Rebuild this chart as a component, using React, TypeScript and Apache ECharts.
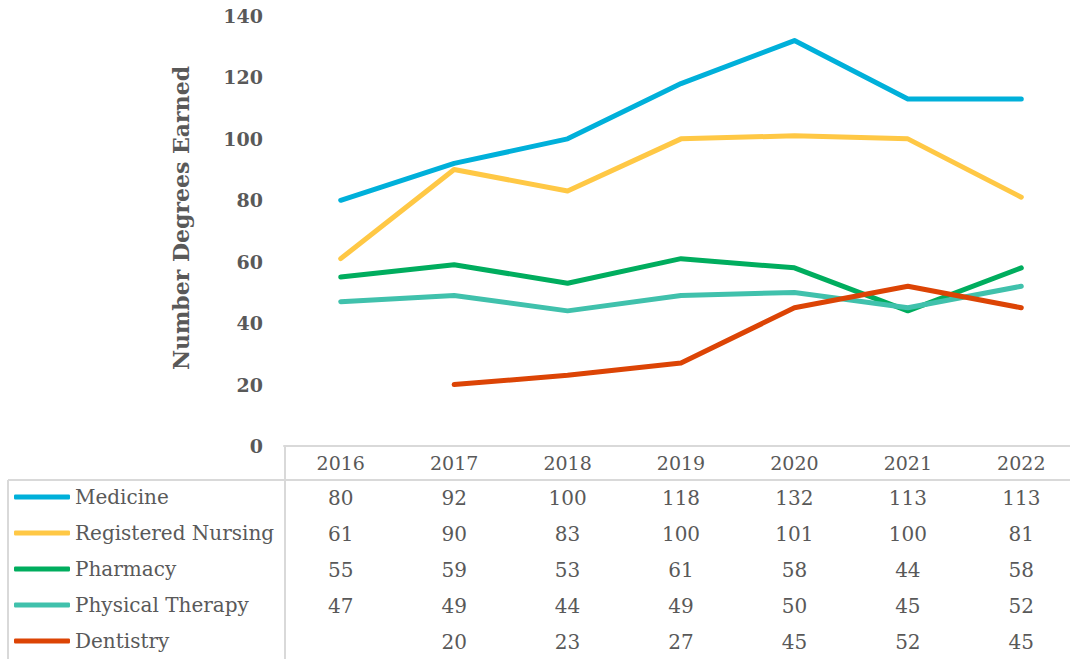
import React, { useEffect, useRef } from "react";
import * as echarts from "echarts";

const years = ["2016", "2017", "2018", "2019", "2020", "2021", "2022"];
const medicine = [80, 92, 100, 118, 132, 113, 113];
const nursing = [61, 90, 83, 100, 101, 100, 81];
const pharmacy = [55, 59, 53, 61, 58, 44, 58];
const physicalTherapy = [47, 49, 44, 49, 50, 45, 52];
const dentistry: (number | null)[] = [null, 20, 23, 27, 45, 52, 45];
const yTicks = [0, 20, 40, 60, 80, 100, 120, 140];

const seriesDefs = [
  { name: "Medicine", data: medicine as (number | null)[], color: "#00B0DA" },
  { name: "Registered Nursing", data: nursing as (number | null)[], color: "#FFC845" },
  { name: "Pharmacy", data: pharmacy as (number | null)[], color: "#00AD5E" },
  { name: "Physical Therapy", data: physicalTherapy as (number | null)[], color: "#40C1AC" },
  { name: "Dentistry", data: dentistry, color: "#DC4405" },
];

const FONT = "'DejaVu Serif', Georgia, serif";
const GRAY = "#595959";
const BORDER = "#d9d9d9";

export default function App() {
  const ref = useRef<HTMLDivElement>(null);
  useEffect(() => {
    if (!ref.current) return;
    const chart = echarts.init(ref.current, undefined, { renderer: "svg" });
    const option: any = {
      animation: false,
      backgroundColor: "#ffffff",
      grid: { left: 284, top: 16, width: 794, height: 430, containLabel: false },
      xAxis: {
        type: "category",
        data: years,
        boundaryGap: true,
        axisLine: { show: true, lineStyle: { color: BORDER, width: 2 } },
        axisTick: { show: false },
        axisLabel: {
          interval: 0,
          margin: 0,
          formatter: (val: string, idx: number) => {
            const lines = ["{y|" + val + "}"];
            seriesDefs.forEach((s) => {
              const v = s.data[idx];
              lines.push("{v|" + (v == null ? " " : String(v)) + "}");
            });
            return lines.join("\n");
          },
          rich: {
            y: { fontFamily: FONT, fontSize: 19, color: GRAY, lineHeight: 34, align: "center" },
            v: { fontFamily: FONT, fontSize: 20, color: GRAY, lineHeight: 36, align: "center" },
          },
        },
        splitLine: { show: false },
      },
      yAxis: {
        type: "value",
        min: yTicks[0],
        max: yTicks[yTicks.length - 1],
        interval: 20,
        axisLine: { show: false },
        axisTick: { show: false },
        splitLine: { show: false },
        axisLabel: {
          margin: 21,
          fontFamily: FONT,
          fontSize: 19,
          fontWeight: "bold",
          color: GRAY,
        },
      },
      legend: {
        orient: "vertical",
        left: 14,
        top: 485,
        height: 190,
        padding: 0,
        itemWidth: 56,
        itemHeight: 5,
        itemGap: 12,
        icon: "roundRect",
        textStyle: { fontFamily: FONT, fontSize: 20, color: GRAY, lineHeight: 24 },
        data: seriesDefs.map((s) => s.name),
        selectedMode: false,
      },
      graphic: [
        {
          type: "text",
          x: 181,
          y: 218,
          rotation: Math.PI / 2,
          style: {
            text: "Number Degrees Earned",
            fontFamily: FONT,
            fontSize: 22,
            fontWeight: "bold",
            fill: GRAY,
            align: "center",
            verticalAlign: "middle",
          },
        },
        { type: "line", shape: { x1: 8, y1: 480, x2: 1090, y2: 480 }, style: { stroke: BORDER, lineWidth: 2 } },
        { type: "line", shape: { x1: 285, y1: 445, x2: 285, y2: 659 }, style: { stroke: BORDER, lineWidth: 2 } },
        { type: "line", shape: { x1: 8, y1: 480, x2: 8, y2: 659 }, style: { stroke: BORDER, lineWidth: 2 } },
      ],
      series: seriesDefs.map((s) => ({
        name: s.name,
        type: "line",
        data: s.data,
        showSymbol: false,
        symbol: "none",
        connectNulls: false,
        color: s.color,
        lineStyle: { color: s.color, width: 5, cap: "round", join: "round" },
        itemStyle: { color: s.color },
      })),
    };
    chart.setOption(option);
    return () => chart.dispose();
  }, []);
  return (
    <div
      style={{ position: "absolute", left: 0, top: 0, width: 1070, height: 659, overflow: "hidden" }}
    >
      <div ref={ref} style={{ width: 1100, height: 659 }} />
    </div>
  );
}
